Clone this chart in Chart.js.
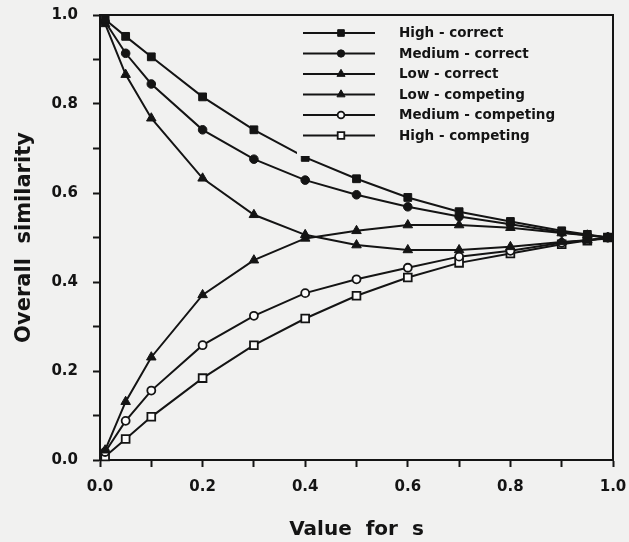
<!DOCTYPE html>
<html>
<head>
<meta charset="utf-8">
<title>Overall similarity</title>
<script src="https://cdn.jsdelivr.net/npm/chart.js@4/dist/chart.umd.min.js"></script>
<style>
    html, body { margin: 0; padding: 0; background: #f1f1f0; }
    #wrap { width: 629px; height: 542px; }
    canvas { display: block; background: #f1f1f0; }
</style>
</head>
<body>
<div id="wrap"><canvas id="simChart" width="629" height="542"></canvas></div>
<script>
// Values of s along the x axis
var sValues = [0.01, 0.05, 0.1, 0.2, 0.3, 0.4, 0.5, 0.6, 0.7, 0.8, 0.9, 0.95, 0.99];

// Overall similarity for each condition
var highCorrect     = [0.990, 0.952, 0.906, 0.816, 0.742, 0.680, 0.632, 0.590, 0.558, 0.536, 0.515, 0.507, 0.500];
var mediumCorrect   = [0.985, 0.914, 0.845, 0.742, 0.676, 0.629, 0.596, 0.569, 0.547, 0.530, 0.512, 0.505, 0.500];
var lowCorrect      = [0.980, 0.866, 0.768, 0.633, 0.551, 0.506, 0.483, 0.472, 0.472, 0.479, 0.490, 0.494, 0.498];
var lowCompeting    = [0.022, 0.131, 0.231, 0.371, 0.449, 0.498, 0.515, 0.528, 0.528, 0.522, 0.510, 0.505, 0.500];
var mediumCompeting = [0.018, 0.088, 0.156, 0.258, 0.324, 0.375, 0.406, 0.432, 0.457, 0.470, 0.488, 0.494, 0.500];
var highCompeting   = [0.008, 0.047, 0.097, 0.184, 0.258, 0.318, 0.369, 0.410, 0.443, 0.464, 0.485, 0.493, 0.500];

// Tick labels shown on both axes (every other tick is unlabelled)
var tickLabels = ['0.0', '0.2', '0.4', '0.6', '0.8', '1.0'];

var ink = '#141414';
var paper = '#f1f1f0';
var openFill = '#fbfbfb';

// Turn one series into {x, y} points
function toPoints(values) {
    return sValues.map(function (s, i) { return { x: s, y: values[i] }; });
}

// Build one dataset with its marker style
function makeSet(label, values, style, radius, filled) {
    return {
        label: label,
        data: toPoints(values),
        borderColor: ink,
        borderWidth: 2,
        pointStyle: style,
        pointRadius: radius,
        pointHoverRadius: radius,
        pointBackgroundColor: filled ? ink : openFill,
        pointBorderColor: ink,
        pointBorderWidth: filled ? 1 : 1.8,
        tension: 0,
        fill: false,
        clip: false
    };
}

// Label only every second tick
function tickLabel(value) {
    var n = Math.round(value * 10);
    return n % 2 === 0 ? tickLabels[n / 2] : '';
}

// Legend drawn inside the plot, in the top right corner
var boxLegend = {
    id: 'boxLegend',
    afterDatasetsDraw: function (chart) {
        var ctx = chart.ctx;
        var area = chart.chartArea;
        ctx.save();
        ctx.fillStyle = paper;
        ctx.fillRect(297, area.top, area.right - 297, 156 - area.top);
        var rowY = [33, 53.5, 74, 94.5, 115, 135.5];
        chart.data.datasets.forEach(function (ds, i) {
            var y = rowY[i];
            ctx.strokeStyle = ink;
            ctx.lineWidth = 2;
            ctx.beginPath();
            ctx.moveTo(303, y);
            ctx.lineTo(375, y);
            ctx.stroke();
            ctx.fillStyle = ds.pointBackgroundColor;
            ctx.lineWidth = ds.pointBorderWidth;
            Chart.helpers.drawPoint(ctx, {
                pointStyle: ds.pointStyle,
                radius: ds.pointRadius * 0.85,
                rotation: 0,
                borderWidth: ds.pointBorderWidth
            }, 341, y);
            ctx.fillStyle = ink;
            ctx.font = 'bold 13.5px "DejaVu Sans"';
            ctx.textBaseline = 'middle';
            ctx.textAlign = 'left';
            ctx.fillText(ds.label, 399, y + 0.5);
        });
        ctx.restore();
    },
    // Top and right edges of the frame
    afterDraw: function (chart) {
        var ctx = chart.ctx;
        var a = chart.chartArea;
        ctx.save();
        ctx.strokeStyle = ink;
        ctx.lineWidth = 2;
        ctx.beginPath();
        ctx.moveTo(a.left, a.top);
        ctx.lineTo(a.right, a.top);
        ctx.lineTo(a.right, a.bottom);
        ctx.stroke();
        ctx.restore();
    }
};

var axisFont = { family: '"DejaVu Sans"', size: 15, weight: 'bold' };

var ctx = document.getElementById('simChart').getContext('2d');
var simChart = new Chart(ctx, {
    type: 'line',
    data: {
        datasets: [
            makeSet('High - correct', highCorrect, 'rect', 5.5, true),
            makeSet('Medium - correct', mediumCorrect, 'circle', 4.3, true),
            makeSet('Low - correct', lowCorrect, 'triangle', 5.5, true),
            makeSet('Low - competing', lowCompeting, 'triangle', 5.5, true),
            makeSet('Medium - competing', mediumCompeting, 'circle', 4, false),
            makeSet('High - competing', highCompeting, 'rect', 5.5, false)
        ]
    },
    options: {
        responsive: false,
        animation: false,
        devicePixelRatio: 1,
        layout: { padding: { top: 15, right: 16, left: 0, bottom: 0 } },
        plugins: {
            legend: { display: false },
            tooltip: { enabled: false }
        },
        scales: {
            x: {
                type: 'linear',
                min: 0,
                max: 1,
                afterFit: function (scale) {
                    scale.height = 82;
                    scale.paddingLeft = 0;
                    scale.paddingRight = 0;
                },
                ticks: {
                    stepSize: 0.1,
                    autoSkip: false,
                    maxRotation: 0,
                    padding: 11,
                    color: ink,
                    font: axisFont,
                    callback: tickLabel
                },
                grid: { drawOnChartArea: false, drawTicks: true, tickLength: 7, tickWidth: 2, color: ink },
                border: { display: true, color: ink, width: 2 },
                title: {
                    display: true,
                    text: 'Value  for  s',
                    color: ink,
                    font: { family: '"DejaVu Sans"', size: 20, weight: 'bold' },
                    padding: { top: 0, bottom: 0 }
                }
            },
            y: {
                type: 'linear',
                min: 0,
                max: 1,
                afterFit: function (scale) {
                    scale.width = 100;
                    scale.paddingTop = 0;
                    scale.paddingBottom = 0;
                },
                ticks: {
                    stepSize: 0.1,
                    autoSkip: false,
                    padding: 15,
                    color: ink,
                    font: axisFont,
                    callback: tickLabel
                },
                grid: { drawOnChartArea: false, drawTicks: true, tickLength: 7, tickWidth: 2, color: ink },
                border: { display: true, color: ink, width: 2 },
                title: {
                    display: true,
                    text: 'Overall  similarity',
                    color: ink,
                    font: { family: '"DejaVu Sans"', size: 21, weight: 'bold' },
                    padding: { top: 12, bottom: 0 }
                }
            }
        }
    },
    plugins: [boxLegend]
});
</script>
</body>
</html>
